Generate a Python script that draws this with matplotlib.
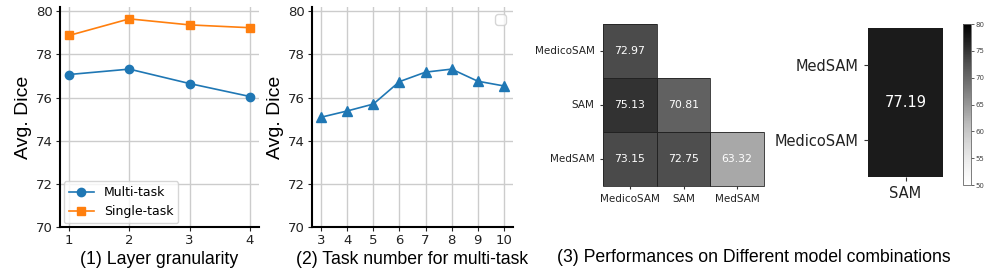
import numpy as np
import matplotlib
matplotlib.use('Agg')
import matplotlib.pyplot as plt
from matplotlib.patches import Rectangle
import seaborn as sns

# (1) layer granularity
layers = [1, 2, 3, 4]
multi_task = [77.07, 77.32, 76.65, 76.05]
single_task = [78.88, 79.65, 79.37, 79.24]

# (2) task number for multi-task
task_nums = [3, 4, 5, 6, 7, 8, 9, 10]
task_dice = [75.09, 75.38, 75.70, 76.74, 77.18, 77.32, 76.76, 76.54]

# (3) model combinations
models = ['MedicoSAM', 'SAM', 'MedSAM']
combo = [[72.97, np.nan, np.nan],
         [75.13, 70.81, np.nan],
         [73.15, 72.75, 63.32]]
triple_val = [[77.19]]
triple_x = ['SAM']
triple_y = ['MedSAM', 'MedicoSAM']

W, H = 997, 273
fig = plt.figure(figsize=(W / 100, H / 100), dpi=100)

def box(l, t, r, b):
    return [l / W, 1 - b / H, (r - l) / W, (b - t) / H]

lab_font = dict(family='Liberation Sans', size=12.7)

def style_line_ax(ax):
    ax.set_ylim(70, 80.2)
    ax.set_yticks([70, 72, 74, 76, 78, 80])
    ax.grid(True, color='#cccccc', linewidth=1)
    ax.set_axisbelow(True)
    for s in ['top', 'right']:
        ax.spines[s].set_visible(False)
    for s in ['left', 'bottom']:
        ax.spines[s].set_linewidth(1.5)
        ax.spines[s].set_color('black')
    ax.tick_params(length=3, width=0.8, labelsize=9.5, pad=2, colors='#222222')
    ax.set_ylabel('Avg. Dice', family='Liberation Sans', size=14, labelpad=3)

ax1 = fig.add_axes(box(60, 7, 259, 227))
ax1.plot(layers, multi_task, '-o', color='#1f77b4', ms=6, lw=1.2, label='Multi-task')
ax1.plot(layers, single_task, '-s', color='#ff7f0e', ms=5.5, lw=1.2, label='Single-task')
ax1.set_xticks(layers)
style_line_ax(ax1)
ax1.set_xlabel('(1) Layer granularity', labelpad=3, **lab_font)
ax1.legend(loc='lower left', fontsize=9, borderaxespad=0.3)

ax2 = fig.add_axes(box(312, 7, 513, 227))
ax2.plot(task_nums, task_dice, '-^', color='#1f77b4', ms=7, lw=1.2)
ax2.set_xticks(task_nums)
style_line_ax(ax2)
ax2.set_xlabel('(2) Task number for multi-task', labelpad=3, **lab_font)
ax2.legend(handles=[], loc='upper right')

# heatmap of pairs (lower triangle only)
arr = np.array(combo)
ax3 = fig.add_axes(box(603, 24, 764, 186))
sns.heatmap(arr, ax=ax3, cmap='Greys', vmin=50, vmax=80, cbar=False,
            annot=True, fmt='.2f', annot_kws={'size': 7.8, 'color': 'white'},
            linewidths=0, xticklabels=models, yticklabels=models)
for i in range(arr.shape[0]):
    for j in range(arr.shape[1]):
        if not np.isnan(arr[i, j]):
            ax3.add_patch(Rectangle((j, i), 1, 1, fill=False, lw=0.6,
                                    edgecolor='#222222', clip_on=False))
ax3.tick_params(labelsize=7.5, length=2.5, width=0.8, colors='#333333')
ax3.set_yticklabels(models, rotation=0, color='#222222')
ax3.set_xticklabels(models, rotation=0, color='#222222')

# single combination + colorbar
ax4 = fig.add_axes(box(868, 28, 943, 177))
cax = fig.add_axes(box(963, 24, 971, 185))
sns.heatmap(np.array(triple_val), ax=ax4, cmap='Greys', vmin=50, vmax=80,
            cbar_ax=cax, annot=True, fmt='.2f',
            annot_kws={'size': 10.5, 'color': 'white'},
            xticklabels=triple_x, yticklabels=False)
ax4.set_yticks([0.25, 0.75])
ax4.set_yticklabels(triple_y, rotation=0)
ax4.tick_params(labelsize=10.5, length=3, width=0.8, colors='#333333')
for t in ax4.get_xticklabels() + ax4.get_yticklabels():
    t.set_color('#222222')
cax.set_yticks([50, 55, 60, 65, 70, 75, 80])
cax.tick_params(labelsize=5, length=2, width=0.6, pad=1.5, colors='#444444')
for s in cax.spines.values():
    s.set_linewidth(0.6)
    s.set_edgecolor('#666666')

fig.text(753.5 / W, 1 - 258 / H, '(3) Performances on Different model combinations',
         ha='center', va='center', **lab_font)

fig.savefig('out.png', dpi=100)
